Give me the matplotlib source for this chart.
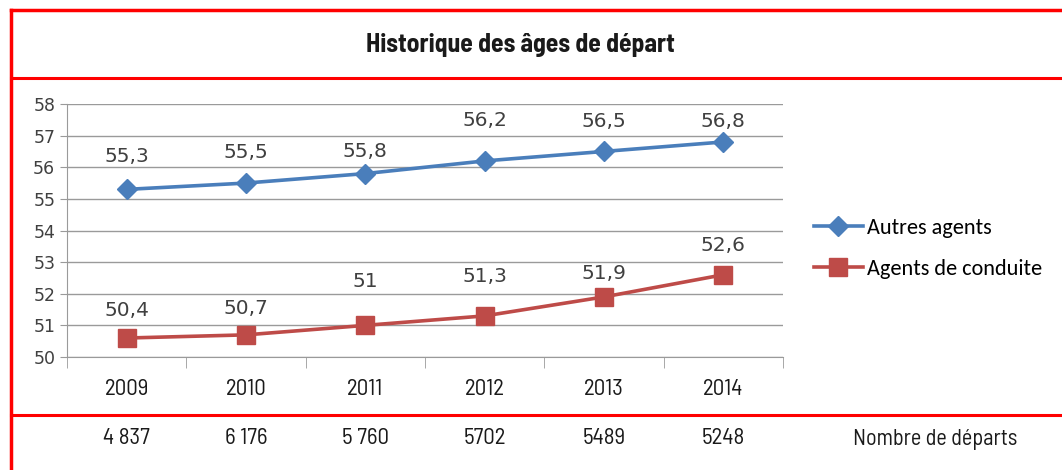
import matplotlib.pyplot as plt
from matplotlib.lines import Line2D
from matplotlib.transforms import blended_transform_factory
from matplotlib.font_manager import fontManager

years = ['2009', '2010', '2011', '2012', '2013', '2014']
autres = [55.3, 55.5, 55.8, 56.2, 56.5, 56.8]
conduite = [50.6, 50.7, 51.0, 51.3, 51.9, 52.6]
autres_lbl = ['55,3', '55,5', '55,8', '56,2', '56,5', '56,8']
conduite_lbl = ['50,4', '50,7', '51', '51,3', '51,9', '52,6']
departs = ['4 837', '6 176', '5 760', '5702', '5489', '5248']

# label offsets above the points (pixels), as placed in the original
autres_off = [33, 31, 22, 40, 30, 20]
conduite_off = [28, 26, 44, 39, 23, 29]

names = {f.name for f in fontManager.ttflist}


def pick(cands, default='DejaVu Sans'):
    for c in cands:
        if c in names:
            return c
    return default


narrow = pick(['Saira Semi Condensed', 'Barlow Semi Condensed', 'Roboto Condensed',
               'Ubuntu Condensed', 'PT Sans Narrow', 'Archivo Narrow', 'Liberation Sans Narrow'])
calibri = pick(['Carlito', 'Calibri', 'Open Sans'])

W, H = 1062, 470
fig = plt.figure(figsize=(W / 100, H / 100), dpi=100)
ax = fig.add_axes([67 / W, 113 / H, (783 - 67) / W, 253 / H])

blue = '#4A7EBB'
red = '#BE4B48'
x = list(range(len(years)))
ax.plot(x, autres, color=blue, lw=2.6, marker='D', ms=10.5, label='Autres agents', zorder=3)
ax.plot(x, conduite, color=red, lw=2.6, marker='s', ms=12.5, label='Agents de conduite', zorder=3)

for i in x:
    ax.annotate(autres_lbl[i], (i, autres[i]), xytext=(0, autres_off[i]), textcoords='offset pixels',
                ha='center', va='center', fontsize=14.5, color='#404040')
    ax.annotate(conduite_lbl[i], (i, conduite[i]), xytext=(0, conduite_off[i]), textcoords='offset pixels',
                ha='center', va='center', fontsize=14.5, color='#404040')

ax.set_xlim(-0.5, 5.5)
ax.set_ylim(50, 58)
ax.set_yticks(range(50, 59))
ax.grid(axis='y', color='#9a9a9a', lw=1)
ax.set_axisbelow(True)
for s in ['top', 'right']:
    ax.spines[s].set_visible(False)
for s in ['left', 'bottom']:
    ax.spines[s].set_color('#9a9a9a')
ax.set_xticks(x)
ax.set_xticklabels(years, fontsize=16.5, family=narrow, color='#1a1a1a')
ax.set_xticks([i - 0.5 for i in range(7)], minor=True)
ax.tick_params(axis='x', which='major', length=0, pad=16)
ax.tick_params(axis='x', which='minor', length=8, color='#9a9a9a')
ax.tick_params(axis='y', length=5, color='#9a9a9a', labelsize=12.5, labelcolor='#404040')

tr = blended_transform_factory(ax.transData, fig.transFigure)
for i in x:
    ax.text(i, 1 - 439 / H, departs[i], transform=tr,
            ha='center', va='center', fontsize=16.5, family=narrow, color='#1a1a1a')
fig.text(935 / W, 1 - 439 / H, 'Nombre de départs', ha='center', va='center', fontsize=16,
         family=narrow, color='#1a1a1a')

fig.text(520 / W, 1 - 45 / H, 'Historique des âges de départ', ha='center', va='center',
         fontsize=18.5, fontweight='bold', family=narrow, color='#1a1a1a')

fig.legend(loc='upper left', bbox_to_anchor=(794 / W, 1 - 198 / H), frameon=False,
           handlelength=2.2, handletextpad=0.2, labelspacing=0.95,
           prop={'family': calibri, 'size': 16})

red_line = '#FF0000'
fig.add_artist(Line2D([11 / W, 1], [1 - 10 / H] * 2, color=red_line, lw=2.5))
fig.add_artist(Line2D([11 / W, 1], [1 - 78 / H] * 2, color=red_line, lw=2.2))
fig.add_artist(Line2D([11 / W, 1], [1 - 415 / H] * 2, color=red_line, lw=2.2))
fig.add_artist(Line2D([11 / W] * 2, [0, 1 - 10 / H], color=red_line, lw=2.5))

fig.savefig('out.png', dpi=100)
